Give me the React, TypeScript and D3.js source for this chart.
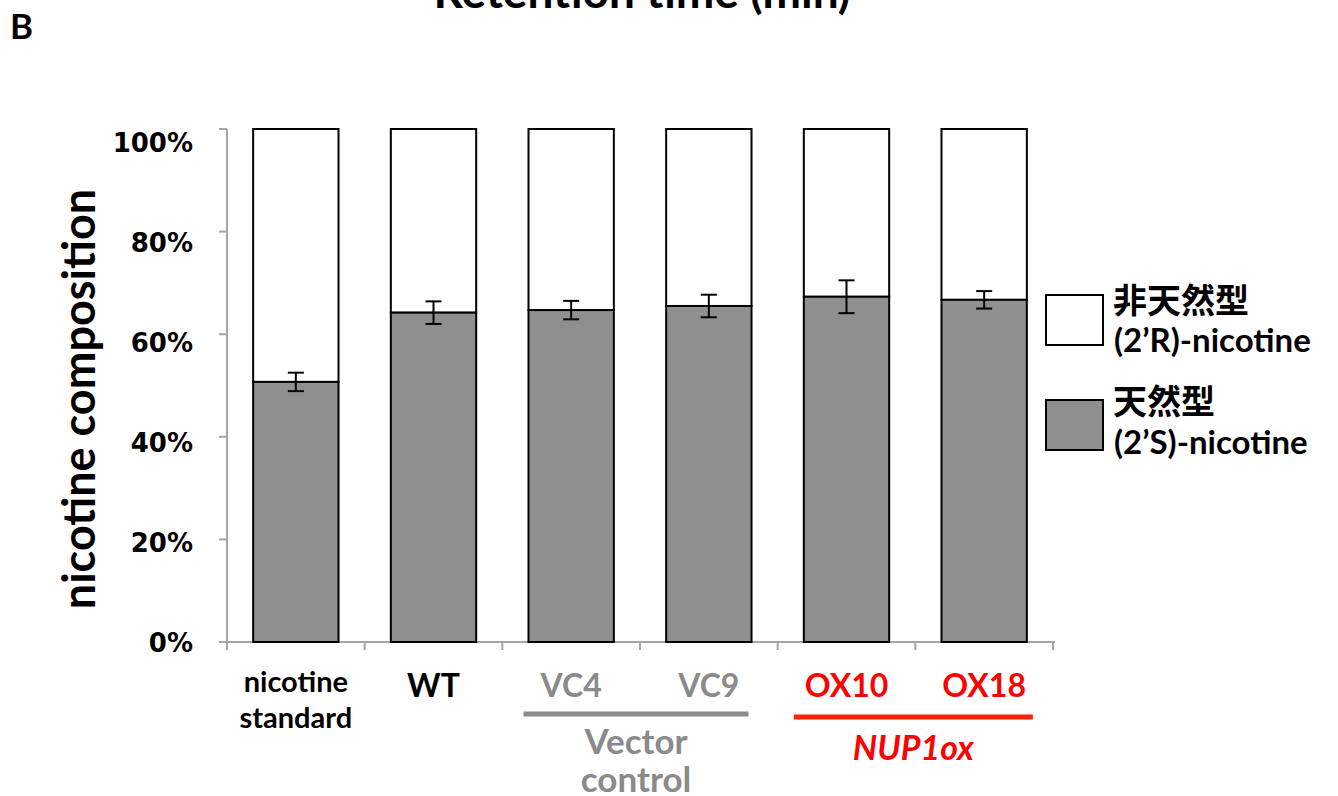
import React from 'react';
import * as d3 from 'd3';

const categories = ['nicotine standard', 'WT', 'VC4', 'VC9', 'OX10', 'OX18'];
const labelLines = [['nicotine', 'standard'], ['WT'], ['VC4'], ['VC9'], ['OX10'], ['OX18']];
const sValues = [50.7, 64.2, 64.7, 65.5, 67.3, 66.7];
const sErrors = [1.8, 2.2, 1.8, 2.2, 3.2, 1.7];
const yTicks = [0, 20, 40, 60, 80, 100];
const labelColors = ['#000000', '#000000', '#8a8a8a', '#8a8a8a', '#ff0000', '#ff0000'];
const groups = [
  { from: 'VC4', to: 'VC9', lines: ['Vector', 'control'], color: '#8a8a8a', lineColor: '#8c8c8c', italic: false },
  { from: 'OX10', to: 'OX18', lines: ['NUP1ox'], color: '#ff0000', lineColor: '#ff2200', italic: true },
];
const legendItems = [
  { lines: ['非天然型', '(2’R)-nicotine'], fill: '#ffffff' },
  { lines: ['天然型', '(2’S)-nicotine'], fill: '#8f8f8f' },
];

const FONT = 'Lato, "Noto Sans CJK JP", sans-serif';
const CJK = '"Noto Sans CJK JP", sans-serif';

export default function App() {
  const x = d3.scaleBand<string>().domain(categories).range([227, 1053]).paddingInner(0.38).paddingOuter(0.19);
  const y = d3.scaleLinear().domain([0, 100]).range([642, 129]);
  const yLabel = d3.scaleLinear().domain([0, 100]).range([643, 143]);
  const bw = x.bandwidth();
  const boundaries = d3.range(categories.length + 1).map((i) => 227 + i * x.step());

  return (
    <svg width={1338} height={796} style={{ position: 'absolute', left: 0, top: 0, background: '#fff' }}>
      <rect width={1338} height={796} fill="#fff" />
      {/* cut-off title */}
      <text x={642} y={8} textAnchor="middle" fontFamily={FONT} fontWeight={700} fontSize={46}>Retention time (min)</text>
      <text x={10} y={39} fontFamily={FONT} fontWeight={700} fontSize={35}>B</text>

      {/* y axis */}
      <line x1={227} x2={227} y1={y(100)} y2={y(0)} stroke="#a6a6a6" strokeWidth={2} />
      {yTicks.map((t) => (
        <g key={t}>
          <line x1={219} x2={227} y1={y(t)} y2={y(t)} stroke="#a6a6a6" strokeWidth={2} />
          <text x={193} y={yLabel(t)} dy="0.36em" textAnchor="end" fontFamily='"DejaVu Sans", Verdana, sans-serif' fontWeight={700} fontSize={26}>{t}%</text>
        </g>
      ))}
      <text transform={`translate(95,399) rotate(-90)`} textAnchor="middle" fontFamily={FONT} fontWeight={700} fontSize={45}>nicotine composition</text>

      {/* x axis */}
      <line x1={221} x2={1055} y1={y(0)} y2={y(0)} stroke="#a6a6a6" strokeWidth={2} />
      {boundaries.map((b, i) => (
        <line key={i} x1={b} x2={b} y1={y(0)} y2={y(0) + 8} stroke="#a6a6a6" strokeWidth={2} />
      ))}

      {/* bars */}
      {categories.map((c, i) => {
        const bx = x(c)!;
        const v = sValues[i];
        const e = sErrors[i];
        const cx = bx + bw / 2;
        return (
          <g key={c}>
            <rect x={bx} y={y(100)} width={bw} height={y(v) - y(100)} fill="#fff" stroke="#000" strokeWidth={2} />
            <rect x={bx} y={y(v)} width={bw} height={y(0) - y(v)} fill="#8f8f8f" stroke="#000" strokeWidth={2} />
            <line x1={cx} x2={cx} y1={y(v + e)} y2={y(v - e)} stroke="#000" strokeWidth={2} />
            <line x1={cx - 8} x2={cx + 8} y1={y(v + e)} y2={y(v + e)} stroke="#000" strokeWidth={2} />
            <line x1={cx - 8} x2={cx + 8} y1={y(v - e)} y2={y(v - e)} stroke="#000" strokeWidth={2} />
          </g>
        );
      })}

      {/* category labels */}
      {categories.map((c, i) => {
        const cx = x(c)! + bw / 2;
        const lines = labelLines[i];
        const multi = lines.length > 1;
        return (
          <text key={c} textAnchor="middle" fontFamily={FONT} fontWeight={700} fontSize={multi ? 29 : 32} fill={labelColors[i]}>
            {lines.map((l, j) => (
              <tspan key={j} x={cx} y={multi ? 692 + j * 36 : 697}>{l}</tspan>
            ))}
          </text>
        );
      })}

      {/* group brackets */}
      {groups.map((g, gi) => {
        const x1 = x(g.from)! - (gi === 0 ? 5 : 10);
        const x2 = x(g.to)! + bw + (gi === 0 ? -3 : 6);
        const mid = (x1 + x2) / 2;
        return (
          <g key={gi}>
            <line x1={x1} x2={x2} y1={714 + gi * 3} y2={714 + gi * 3} stroke={g.lineColor} strokeWidth={5} />
            <text textAnchor="middle" fontFamily={FONT} fontWeight={700} fontStyle={g.italic ? 'italic' : 'normal'} fontSize={g.italic ? 34 : 35} fill={g.color}>
              {g.lines.map((l, j) => (
                <tspan key={j} x={mid} y={g.lines.length > 1 ? 754 + j * 38 : 760}>{l}</tspan>
              ))}
            </text>
          </g>
        );
      })}

      {/* legend */}
      {legendItems.map((it, i) => {
        const top = 295 + i * 105;
        return (
          <g key={i}>
            <rect x={1046} y={top} width={57} height={50} fill={it.fill} stroke="#000" strokeWidth={2} />
            <text x={1113} y={top + 18 + (i === 0 ? 0 : -4)} fontFamily={CJK} fontWeight={700} fontSize={34} fill="#000">{it.lines[0]}</text>
            <text x={1114} y={top + 57 - (i === 0 ? 0 : 3)} fontFamily={FONT} fontWeight={700} fontSize={33} fill="#000">{it.lines[1]}</text>
          </g>
        );
      })}
    </svg>
  );
}
